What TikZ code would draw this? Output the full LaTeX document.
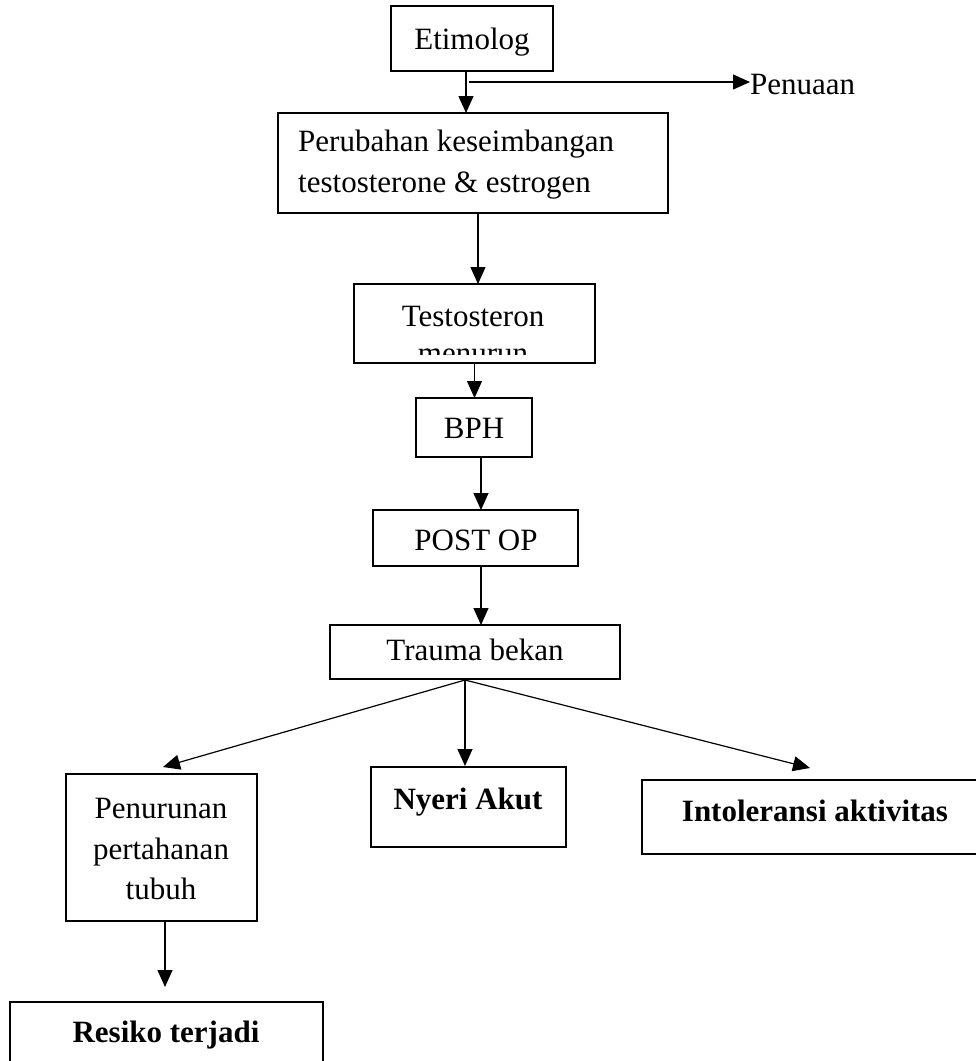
\documentclass[tikz,border=0pt]{standalone}
\usepackage{fontspec}
\setmainfont{Liberation Serif}
\usetikzlibrary{arrows.meta}
\begin{document}
\begin{tikzpicture}[x=1pt,y=-1pt,
  box/.style={draw, line width=1.2pt, inner sep=0pt, outer sep=0pt},
  txt/.style={font=\fontsize{31}{41}\selectfont, inner sep=0pt, align=center},
  btxt/.style={font=\fontsize{31}{41}\selectfont\bfseries, inner sep=0pt, align=center},
  arr/.style={line width=1.2pt, -{Triangle[length=17pt,width=15pt]}}]
\useasboundingbox (0,0) rectangle (976,1061);
% boxes
\node[box, minimum width=162pt, minimum height=65pt] (etim) at (472,38.5) {};
\node[box, minimum width=390pt, minimum height=100pt] (perub) at (473,163) {};
\node[box, minimum width=241pt, minimum height=79pt] (testo) at (474.5,323.5) {};
\node[box, minimum width=116pt, minimum height=59pt] (bph) at (474,427.5) {};
\node[box, minimum width=205pt, minimum height=56pt] (post) at (475.5,538) {};
\node[box, minimum width=290pt, minimum height=54pt] (trauma) at (475,652) {};
\node[box, minimum width=191pt, minimum height=147pt] (penur) at (161.5,847.5) {};
\node[box, minimum width=195pt, minimum height=80pt] (nyeri) at (468.5,807) {};
\node[box, minimum width=348pt, minimum height=74pt] (intol) at (816,817) {};
\node[box, minimum width=313pt, minimum height=78pt] (resiko) at (166.5,1041) {};
% texts
\node[txt, anchor=base] (etimt) at (472,49) {Etimolog};
\node[txt, anchor=west] (penuaan) at (750,84) {Penuaan};
\node[txt, align=left, anchor=west] (perubt) at (298,165) {Perubahan keseimbangan\\testosterone \& estrogen};
\begin{scope}
  \clip (355,284) rectangle (594,354);
  \node[txt, anchor=base] (testot1) at (473,326) {Testosteron};
  \node[txt, anchor=base] (testot2) at (473,363) {menurun};
\end{scope}
\node[txt] (bpht) at (474,428) {BPH};
\node[txt] (postt) at (476,540) {POST OP};
\node[txt] (traumat) at (475,650) {Trauma bekan};
\node[txt, anchor=base] (penurt1) at (161,818) {Penurunan};
\node[txt, anchor=base] (penurt2) at (161,859) {pertahanan};
\node[txt, anchor=base] (penurt3) at (161,899) {tubuh};
\node[btxt, anchor=base] (nyerit) at (468,809) {Nyeri Akut};
\node[btxt, anchor=base] (intolt) at (815,821) {Intoleransi aktivitas};
\node[btxt, anchor=base] (resikot) at (166,1042) {Resiko terjadi};
% connectors
\coordinate (br) at (469,82);
\draw[arr] ([xshift=-6pt]etim.south) -- ([xshift=-6pt]etim.south |- perub.north);
\draw[arr] (br) -- (penuaan.west |- br);
\draw[arr] ([xshift=5pt]perub.south) -- ([xshift=5pt]perub.south |- testo.north);
\draw[arr] ([xshift=0pt]testo.south) -- ([xshift=0pt]testo.south |- bph.north);
\draw[arr] ([xshift=7pt]bph.south) -- ([xshift=7pt]bph.south |- post.north);
\draw[arr] ([xshift=5.5pt]post.south) -- ([xshift=5.5pt]post.south |- trauma.north);
\coordinate (fan) at (465,680);
\coordinate (tipL) at (163,767);
\coordinate (tipC) at (465,766);
\coordinate (tipR) at (810,768);
\coordinate (tipB) at (165,987);
\draw[arr] (fan) -- (tipL);
\draw[arr] (fan) -- (tipC);
\draw[arr] (fan) -- (tipR);
\draw[arr] ([xshift=3.5pt]penur.south) -- (tipB);
\end{tikzpicture}
\end{document}
